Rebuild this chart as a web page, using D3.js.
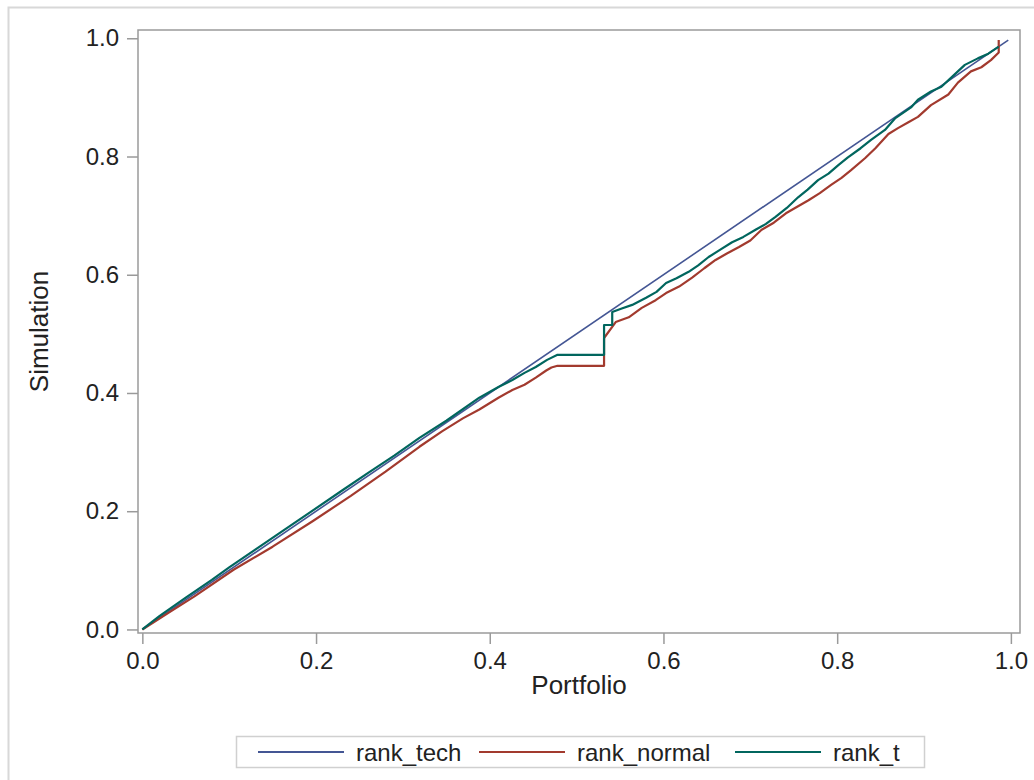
<!DOCTYPE html>
<html>
<head>
<meta charset="utf-8">
<script src="https://cdn.jsdelivr.net/npm/d3@7.9.0/dist/d3.min.js"></script>
<style>
  body { margin: 0; background: #fff; }
  svg { display: block; font-family: "Liberation Sans", Arial, sans-serif; }
</style>
</head>
<body>
<div id="chart"></div>
<script>
const seriesNames = ["rank_tech", "rank_normal", "rank_t"];
const seriesColors = ["#445694", "#A23A2E", "#01665E"];
const xTicks = [0, 0.2, 0.4, 0.6, 0.8, 1.0];
const yTicks = [0, 0.2, 0.4, 0.6, 0.8, 1.0];

// [portfolio, simulation] pairs
const rankTech = [[0, 0], [0.997, 0.997]];

const rankNormal = [
  [0, 0], [0.03, 0.028], [0.06, 0.056], [0.105, 0.101], [0.15, 0.14],
  [0.196, 0.183], [0.24, 0.226], [0.28, 0.267], [0.319, 0.309], [0.345, 0.335],
  [0.369, 0.357], [0.388, 0.372], [0.41, 0.392], [0.426, 0.405], [0.44, 0.414],
  [0.453, 0.426], [0.465, 0.438], [0.471, 0.443], [0.478, 0.446], [0.5316, 0.446],
  [0.5316, 0.493], [0.545, 0.52], [0.56, 0.528], [0.575, 0.544], [0.591, 0.557],
  [0.603, 0.569], [0.618, 0.58], [0.633, 0.595], [0.647, 0.611], [0.66, 0.625],
  [0.673, 0.636], [0.687, 0.647], [0.7, 0.658], [0.713, 0.676], [0.727, 0.688],
  [0.741, 0.704], [0.754, 0.715], [0.767, 0.726], [0.78, 0.738], [0.793, 0.752],
  [0.805, 0.764], [0.816, 0.777], [0.832, 0.797], [0.844, 0.814], [0.859, 0.838],
  [0.87, 0.848], [0.882, 0.858], [0.893, 0.867], [0.908, 0.887], [0.928, 0.905],
  [0.939, 0.925], [0.954, 0.944], [0.966, 0.951], [0.977, 0.963], [0.986, 0.976],
  [0.986, 0.997]
];

const rankT = [
  [0, 0], [0.02, 0.023], [0.05, 0.054], [0.08, 0.084], [0.1, 0.105],
  [0.13, 0.135], [0.16, 0.165], [0.196, 0.201], [0.23, 0.235], [0.26, 0.265],
  [0.29, 0.294], [0.319, 0.324], [0.35, 0.353], [0.388, 0.392], [0.41, 0.41],
  [0.426, 0.422], [0.44, 0.434], [0.453, 0.444], [0.466, 0.456], [0.478, 0.4645],
  [0.5316, 0.4645], [0.5316, 0.515], [0.541, 0.515], [0.541, 0.537], [0.552, 0.543],
  [0.564, 0.549], [0.58, 0.561], [0.592, 0.571], [0.603, 0.586], [0.615, 0.594],
  [0.629, 0.605], [0.64, 0.616], [0.652, 0.63], [0.665, 0.642], [0.679, 0.655],
  [0.692, 0.664], [0.706, 0.676], [0.718, 0.686], [0.729, 0.698], [0.742, 0.713],
  [0.755, 0.731], [0.766, 0.744], [0.778, 0.76], [0.79, 0.771], [0.801, 0.785],
  [0.812, 0.798], [0.827, 0.814], [0.839, 0.828], [0.855, 0.845], [0.867, 0.865],
  [0.885, 0.883], [0.893, 0.896], [0.908, 0.91], [0.92, 0.918], [0.931, 0.933],
  [0.947, 0.955], [0.962, 0.966], [0.974, 0.974], [0.986, 0.986]
];

const width = 1034;
const height = 780;
const plot = { left: 138, right: 1020, top: 30, bottom: 633 };

const svg = d3.select("#chart")
  .append("svg")
  .attr("width", width)
  .attr("height", height);

// outer frame of the graph
svg.append("rect")
  .attr("x", 8.5).attr("y", 7.5)
  .attr("width", 1040).attr("height", 800)
  .attr("fill", "none")
  .attr("stroke", "#d8d8d8")
  .attr("stroke-width", 2);

const x = d3.scaleLinear()
  .domain([-0.005, 1.0105])
  .range([plot.left, plot.right]);

const y = d3.scaleLinear()
  .domain([-0.006, 1.014])
  .range([plot.bottom, plot.top]);

const xAxis = svg.append("g")
  .attr("transform", `translate(0,${plot.bottom})`)
  .call(d3.axisBottom(x).tickValues(xTicks).tickFormat(d3.format(".1f")).tickSize(11).tickPadding(8));

const yAxis = svg.append("g")
  .attr("transform", `translate(${plot.left},0)`)
  .call(d3.axisLeft(y).tickValues(yTicks).tickFormat(d3.format(".1f")).tickSize(11).tickPadding(8));

[xAxis, yAxis].forEach(g => {
  g.select(".domain").remove();
  g.selectAll("line").attr("stroke", "#9a9a9a").attr("stroke-width", 1.5);
  g.selectAll("text")
    .attr("fill", "#222")
    .style("font-size", "24px")
    .style("font-family", "'Liberation Sans', Arial, sans-serif");
});

// plot frame
svg.append("rect")
  .attr("x", plot.left).attr("y", plot.top)
  .attr("width", plot.right - plot.left)
  .attr("height", plot.bottom - plot.top)
  .attr("fill", "none")
  .attr("stroke", "#9a9a9a")
  .attr("stroke-width", 1.5);

const line = d3.line()
  .x(d => x(d[0]))
  .y(d => y(d[1]));

const allSeries = [rankTech, rankNormal, rankT];

svg.append("g")
  .selectAll("path")
  .data(allSeries)
  .join("path")
  .attr("d", line)
  .attr("fill", "none")
  .attr("stroke", (d, i) => seriesColors[i])
  .attr("stroke-width", (d, i) => i === 0 ? 1.6 : 2.2)
  .attr("stroke-linejoin", "round");

svg.append("text")
  .attr("x", (plot.left + plot.right) / 2)
  .attr("y", 694)
  .attr("text-anchor", "middle")
  .attr("fill", "#222")
  .style("font-size", "26px")
  .text("Portfolio");

svg.append("text")
  .attr("transform", "rotate(-90)")
  .attr("x", -(plot.top + plot.bottom) / 2)
  .attr("y", 48)
  .attr("text-anchor", "middle")
  .attr("fill", "#222")
  .style("font-size", "26px")
  .text("Simulation");

// legend
const legend = svg.append("g").attr("transform", "translate(236,736)");
legend.append("rect")
  .attr("x", 0.5).attr("y", 0.5)
  .attr("width", 688).attr("height", 31)
  .attr("fill", "none")
  .attr("stroke", "#d0d0d0")
  .attr("stroke-width", 1.5);

const legendX = [22, 243, 499];
const items = legend.selectAll("g.item")
  .data(seriesNames)
  .join("g")
  .attr("class", "item")
  .attr("transform", (d, i) => `translate(${legendX[i]},0)`);

items.append("line")
  .attr("x1", 0).attr("x2", 86)
  .attr("y1", 16).attr("y2", 16)
  .attr("stroke", (d, i) => seriesColors[i])
  .attr("stroke-width", 2);

items.append("text")
  .attr("x", 98)
  .attr("y", 24.5)
  .attr("fill", "#222")
  .style("font-size", "24px")
  .text(d => d);
</script>
</body>
</html>
